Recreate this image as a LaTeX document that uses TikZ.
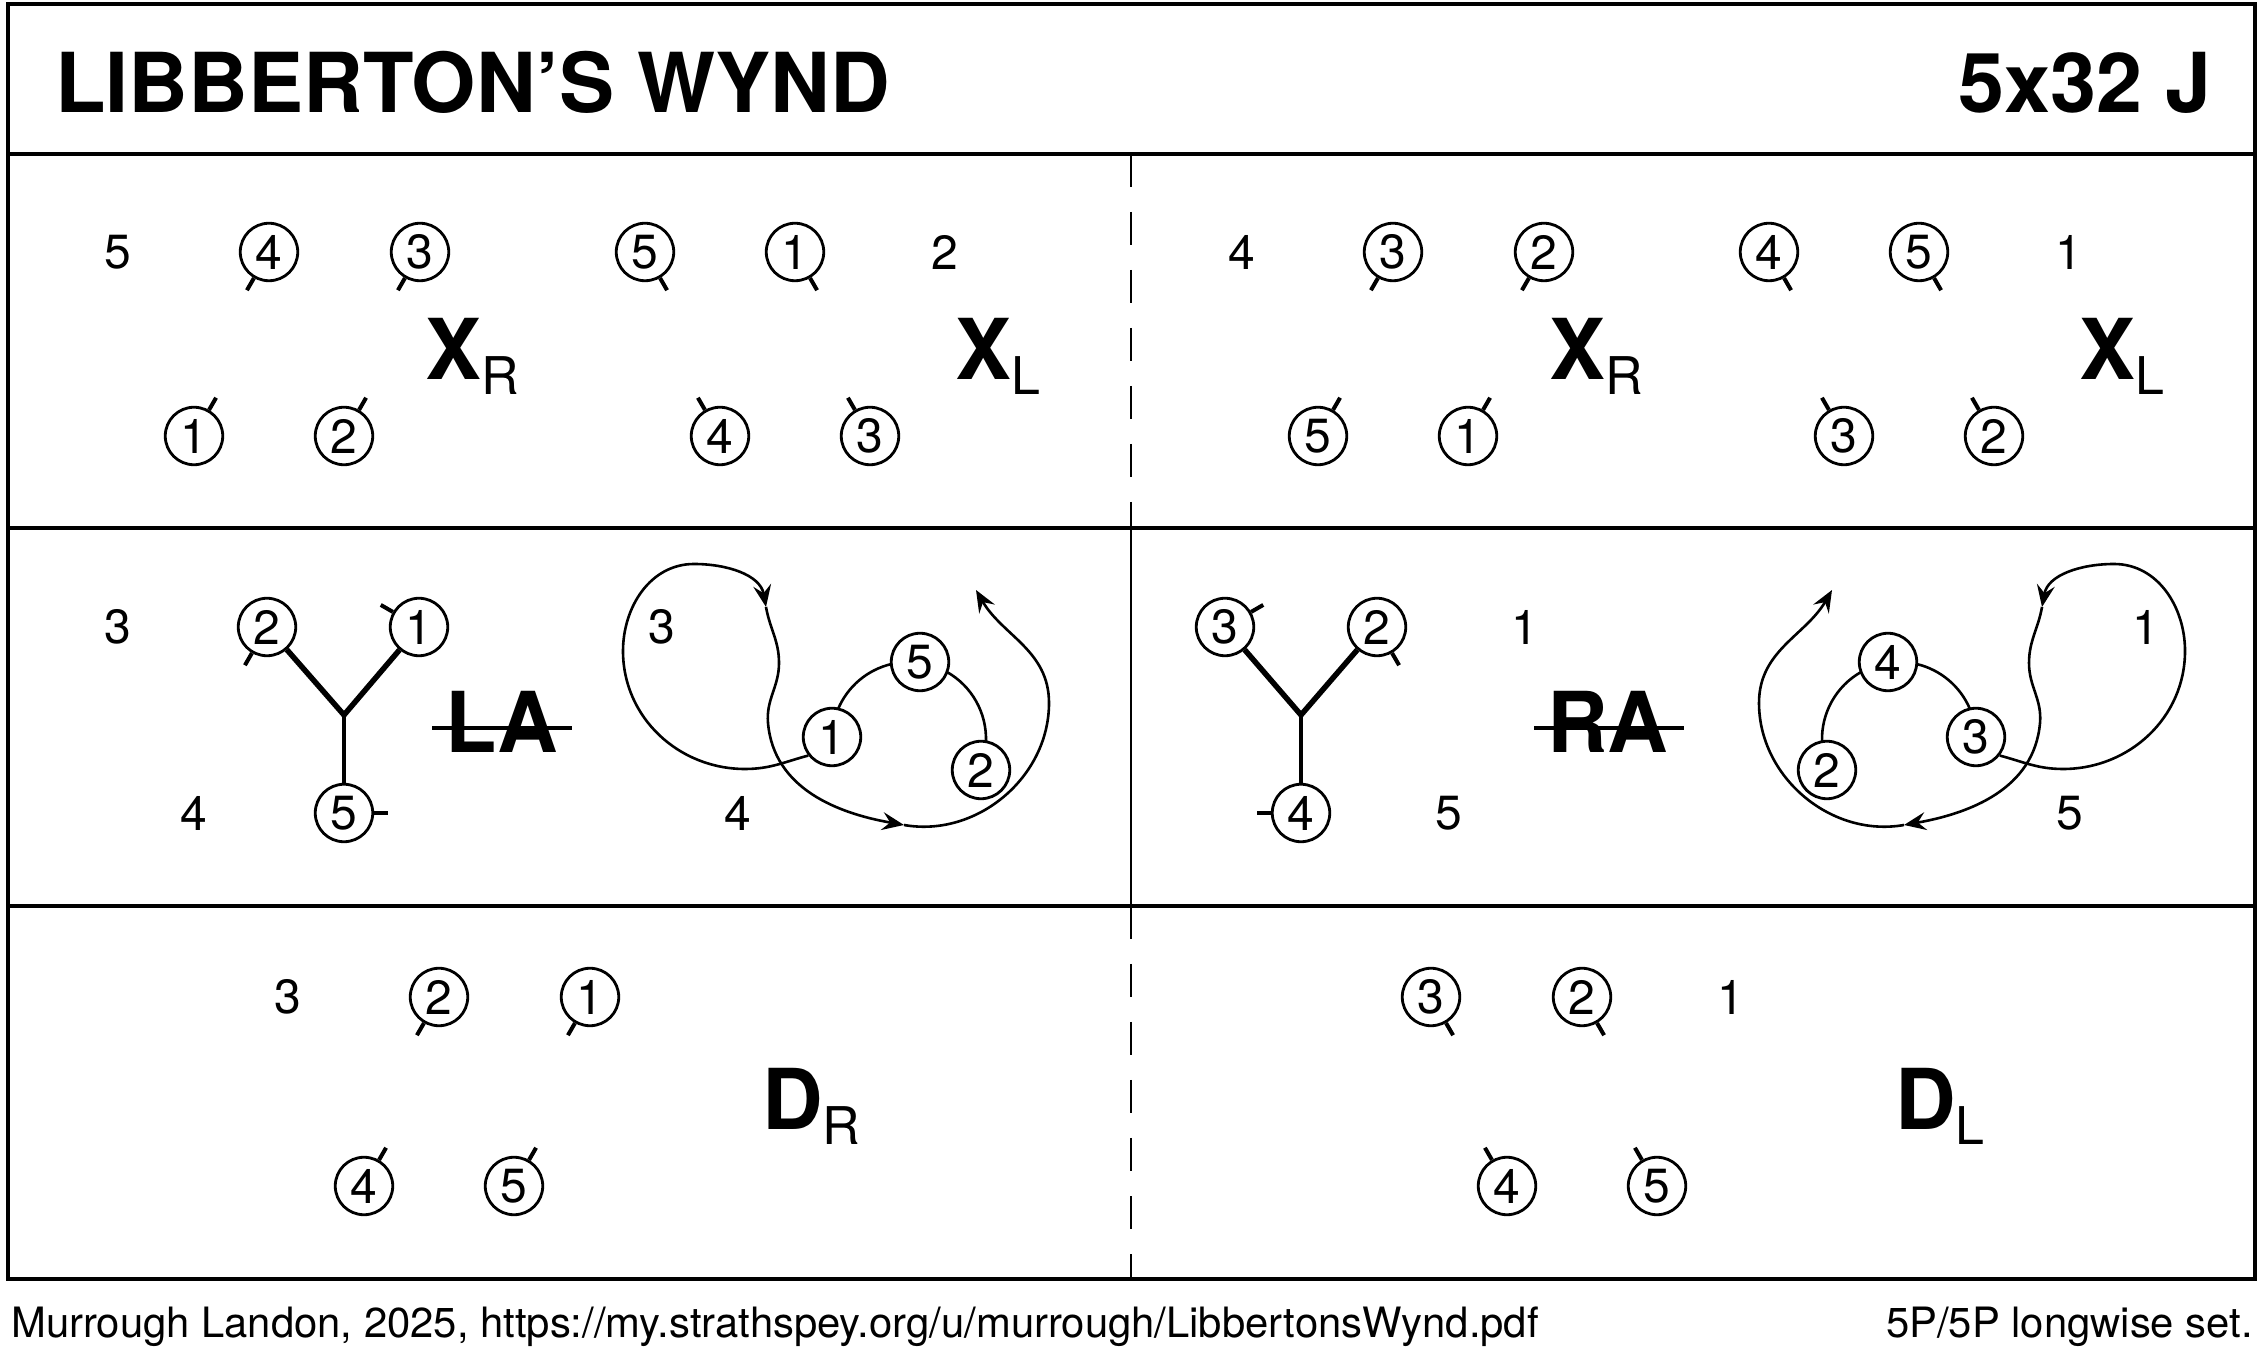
\documentclass[tikz,border=0pt]{standalone}
\usepackage{fontspec}
\setmainfont{TeX Gyre Heros}
\usetikzlibrary{arrows.meta,calc}
\tikzset{
  dc/.style={circle,draw,line width=2.8pt,minimum size=57.5pt,inner sep=0pt,font=\fontsize{48}{48}\selectfont},
  num/.style={inner sep=0pt,font=\fontsize{48}{48}\selectfont},
  tk/.style={line width=4pt},
  frame/.style={line width=3.5pt},
  divd/.style={line width=2.7pt,dash pattern=on 33pt off 25pt},
  divs/.style={line width=2.7pt},
  pth/.style={line width=2.6pt},
  arr/.style={pth,-{Stealth[length=22pt,width=18pt,inset=8pt]}},
  big/.style={inner sep=0pt,anchor=base west,font=\fontsize{84}{84}\selectfont\bfseries},
  arm/.style={line width=5.5pt},
  stem/.style={line width=4pt},
  strike/.style={line width=4pt},
  foot/.style={inner sep=0pt,font=\fontsize{41.8}{41.8}\selectfont},
  footr/.style={inner sep=0pt,font=\fontsize{41.8}{41.8}\selectfont},
  ttl/.style={inner sep=0pt,font=\fontsize{82.7}{82.7}\selectfont\bfseries},
}
\newcommand\mydancer[4]{\node[dc] (#1) at (#2) {#3}; \draw[tk] (#1.#4) -- ++(#4:14);}
\newcommand\mysub[1]{\raisebox{-15pt}{\fontsize{52}{52}\selectfont\mdseries #1}}
\begin{document}
\begin{tikzpicture}[x=1pt,y=1pt]
\useasboundingbox (0,0) rectangle (2267,1363);
% frame
\draw[frame] (8,84) rectangle (2255,1359);
\draw[frame] (8,1209) -- (2255,1209);
\draw[frame] (8,835) -- (2255,835);
\draw[frame] (8,457) -- (2255,457);
\draw[divd] (1131,1209) -- (1131,835);
\draw[divs] (1131,835) -- (1131,457);
\draw[divd] (1131,457) -- (1131,84);
% title
\node[ttl,anchor=base west] (title) at (55,1250) {LIBBERTON’S WYND};
\node[ttl,anchor=base east] (form) at (2212,1250) {5x32 J};
% ---------- row 1 left
\node[num] (a5) at (118,1111) {5};
\mydancer{a4}{269,1111}{4}{240}
\mydancer{a3}{420,1111}{3}{240}
\mydancer{a5c}{645,1111}{5}{300}
\mydancer{a1}{795,1111}{1}{300}
\node[num] (a2) at (945,1111) {2};
\mydancer{b1}{194,927}{1}{60}
\mydancer{b2}{344,927}{2}{60}
\mydancer{b4}{720,927}{4}{120}
\mydancer{b3}{870,927}{3}{120}
\node[big] (xr1) at (425,983) {X\mysub{R}};
\node[big] (xl1) at (955,983) {X\mysub{L}};
% ---------- row 1 right
\node[num] (c4) at (1242,1111) {4};
\mydancer{c3}{1393,1111}{3}{240}
\mydancer{c2}{1544,1111}{2}{240}
\mydancer{c4c}{1769,1111}{4}{300}
\mydancer{c5}{1919,1111}{5}{300}
\node[num] (c1) at (2069,1111) {1};
\mydancer{d5}{1318,927}{5}{60}
\mydancer{d1}{1468,927}{1}{60}
\mydancer{d3}{1844,927}{3}{120}
\mydancer{d2}{1994,927}{2}{120}
\node[big] (xr2) at (1549,983) {X\mysub{R}};
\node[big] (xl2) at (2079,983) {X\mysub{L}};
% ---------- row 2 left
\node[num] (e3) at (118,736) {3};
\node[num] (e4) at (194,550) {4};
\mydancer{e2}{267,736}{2}{240}
\mydancer{e1}{419,736}{1}{150}
\mydancer{e5}{344,550}{5}{0}
\coordinate (ej) at (344,648);
\draw[arm] (ej) -- (e2);
\draw[arm] (ej) -- (e1);
\draw[stem] (ej) -- (e5);
\node[big] (la) at (445,610) {LA};
\draw[strike] ($(la.base west)+(-13,25)$) -- ($(la.base east)+(14,25)$);
\node[num] (f3) at (662,736) {3};
\node[num] (f4) at (738,550) {4};
\coordinate (rcL) at (909,624);
\node[dc] (l5) at (920,701) {5};
\node[dc] (l1) at (832,626) {1};
\node[dc] (l2) at (981,593) {2};
\draw[pth] ([shift={(157.2:77)}]rcL) arc[start angle=157.2,end angle=103.2,radius=77];
\draw[pth] ([shift={(60.6:77)}]rcL) arc[start angle=60.6,end angle=-2,radius=77];
\coordinate (lA1) at (766,756);
\coordinate (lA2) at (904,538);
\coordinate (lE) at (976,773);
\draw[arr] (l1.218) to[out=195,in=0] (745,594) to[out=180,in=-90] (623,712) to[out=90,in=180] (694,799) to[out=0,in=100] (lA1);
\draw[arr] (lA1) to[out=-80,in=90] (779,700) to[out=-90,in=95] (768,640) to[out=-85,in=170] (lA2);
\draw[arr] (lA2) to[out=-10,in=-90] (1049,660) to[out=90,in=-60] (lE);
% ---------- row 2 right
\node[num] (g1) at (1525,736) {1};
\node[num] (g5) at (1449,550) {5};
\mydancer{g3}{1225,736}{3}{30}
\mydancer{g2}{1377,736}{2}{300}
\mydancer{g4}{1301,550}{4}{180}
\coordinate (gj) at (1301,648);
\draw[arm] (gj) -- (g3);
\draw[arm] (gj) -- (g2);
\draw[stem] (gj) -- (g4);
\node[big] (ra) at (1547,610) {RA};
\draw[strike] ($(ra.base west)+(-13,25)$) -- ($(ra.base east)+(15,25)$);
\node[num] (h1) at (2146,736) {1};
\node[num] (h5) at (2070,550) {5};
\coordinate (rcR) at (1899,624);
\node[dc] (r4) at (1888,701) {4};
\node[dc] (r3) at (1976,626) {3};
\node[dc] (r2) at (1827,593) {2};
\draw[pth] ([shift={(22.8:77)}]rcR) arc[start angle=22.8,end angle=76.8,radius=77];
\draw[pth] ([shift={(119.4:77)}]rcR) arc[start angle=119.4,end angle=182,radius=77];
\coordinate (rA1) at (2042,756);
\coordinate (rA2) at (1904,538);
\coordinate (rE) at (1832,773);
\draw[arr] (r3.-38) to[out=-15,in=180] (2063,594) to[out=0,in=-90] (2185,712) to[out=90,in=0] (2114,799) to[out=180,in=80] (rA1);
\draw[arr] (rA1) to[out=-100,in=90] (2029,700) to[out=-90,in=85] (2040,640) to[out=-95,in=10] (rA2);
\draw[arr] (rA2) to[out=-170,in=-90] (1759,660) to[out=90,in=-120] (rE);
% ---------- row 3 left
\node[num] (k3) at (288,366) {3};
\mydancer{k2}{439,366}{2}{240}
\mydancer{k1}{590,366}{1}{240}
\mydancer{m4}{364,177}{4}{60}
\mydancer{m5}{514,177}{5}{60}
\node[big] (dr) at (762,233) {D\mysub{R}};
% ---------- row 3 right
\mydancer{n3}{1431,366}{3}{300}
\mydancer{n2}{1582,366}{2}{300}
\node[num] (n1) at (1731,366) {1};
\mydancer{p4}{1507,177}{4}{120}
\mydancer{p5}{1657,177}{5}{120}
\node[big] (dl) at (1895,233) {D\mysub{L}};
% footer
\node[foot,anchor=base west] (ft1) at (11,26) {Murrough Landon, 2025, https://my.strathspey.org/u/murrough/LibbertonsWynd.pdf};
\node[footr,anchor=base east] (ft2) at (2253,26) {5P/5P longwise set.};
\end{tikzpicture}
\end{document}
